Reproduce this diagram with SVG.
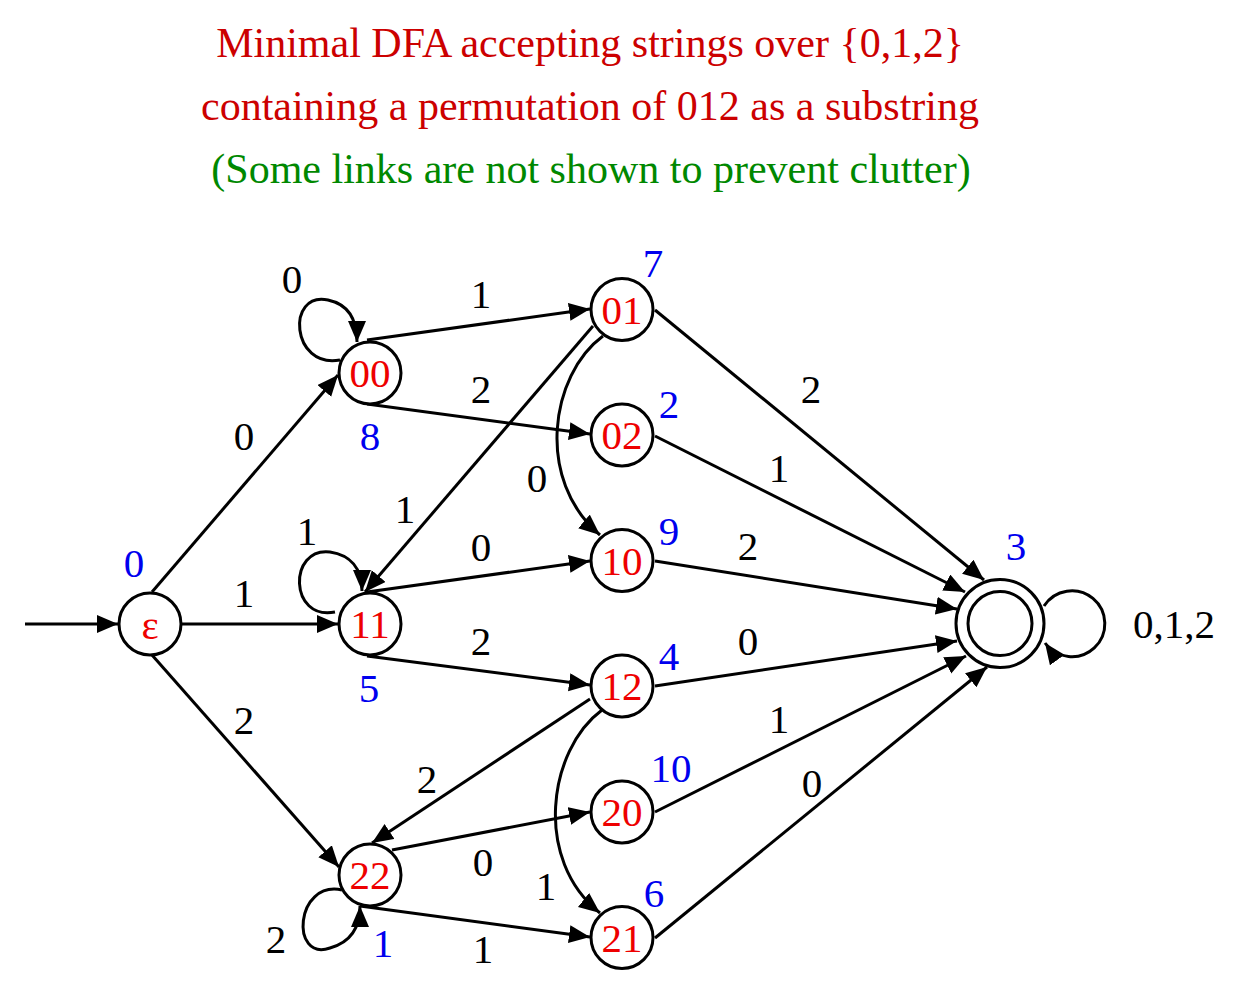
<svg xmlns="http://www.w3.org/2000/svg" width="1244" height="993" viewBox="0 0 1244 993">
<style>
.t{font-family:"Liberation Serif","Times New Roman",serif;font-size:41px;text-anchor:middle}
.title{font-family:"Liberation Serif","Times New Roman",serif;font-size:42px;text-anchor:middle}
.red{fill:#cc0000}
.green{fill:#008800}
.nl{fill:#ee0000}
.lb{fill:#000000}
.bl{fill:#0000ee}
.node{fill:#ffffff;stroke:#000000;stroke-width:3}
.edge{fill:none;stroke:#000000;stroke-width:3;marker-end:url(#arr)}
</style>
<defs>
<marker id="arr" markerUnits="userSpaceOnUse" markerWidth="22" markerHeight="20" viewBox="0 0 22 20" refX="21" refY="9" orient="auto">
<path d="M0,0 L21,9 L0,18 z" fill="#000000"/>
</marker>
</defs>
<rect width="1244" height="993" fill="#ffffff"/>
<g id="title">
<text class="title red" x="590" y="57">Minimal DFA accepting strings over {0,1,2}</text>
<text class="title red" x="590" y="120">containing a permutation of 012 as a substring</text>
<text class="title green" x="591" y="183">(Some links are not shown to prevent clutter)</text>
</g>
<g id="edges">
<path class="edge" d="M25,624 L118,624"/>
<path class="edge" d="M152,592 L338,375"/>
<path class="edge" d="M182,624 L338,624"/>
<path class="edge" d="M152,655 L339,867"/>
<path class="edge" d="M340,360 C291,369 286,291 328,300 C347,304 357,318 357,342"/>
<path class="edge" d="M335,612 C289,621 288,547 330,552 C350,555 362,568 362,591"/>
<path class="edge" d="M342,890 C295,880 290,962 330,948 C348,943 360,930 360,906"/>
<path class="edge" d="M1044,606 A33,33 0 1 1 1045,643"/>
<path class="edge" d="M367,340 L590,309"/>
<path class="edge" d="M367,404 L590,434"/>
<path class="edge" d="M593,326 L365,592"/>
<path class="edge" d="M603,336 C550,375 535,480 600,535"/>
<path class="edge" d="M367,592 L590,561"/>
<path class="edge" d="M367,656 L590,685"/>
<path class="edge" d="M590,699 L372,843"/>
<path class="edge" d="M602,710 C548,750 533,860 600,913"/>
<path class="edge" d="M392,850 L590,812"/>
<path class="edge" d="M360,906 L590,937"/>
<path class="edge" d="M655,310 L984,580"/>
<path class="edge" d="M655,436 L965,592"/>
<path class="edge" d="M655,561 L957,609"/>
<path class="edge" d="M655,686 L957,641"/>
<path class="edge" d="M655,812 L966,656"/>
<path class="edge" d="M655,938 L987,667"/>
</g>
<g id="edge-labels">
<text class="t lb" x="244" y="450">0</text>
<text class="t lb" x="244" y="607">1</text>
<text class="t lb" x="244" y="734">2</text>
<text class="t lb" x="292" y="293">0</text>
<text class="t lb" x="307" y="545">1</text>
<text class="t lb" x="276" y="953">2</text>
<text class="t lb" x="405" y="523">1</text>
<text class="t lb" x="481" y="308">1</text>
<text class="t lb" x="481" y="403">2</text>
<text class="t lb" x="537" y="492">0</text>
<text class="t lb" x="481" y="561">0</text>
<text class="t lb" x="481" y="655">2</text>
<text class="t lb" x="427" y="793">2</text>
<text class="t lb" x="483" y="876">0</text>
<text class="t lb" x="546" y="900">1</text>
<text class="t lb" x="483" y="963">1</text>
<text class="t lb" x="811" y="403">2</text>
<text class="t lb" x="779" y="482">1</text>
<text class="t lb" x="748" y="560">2</text>
<text class="t lb" x="748" y="655">0</text>
<text class="t lb" x="779" y="733">1</text>
<text class="t lb" x="812" y="797">0</text>
<text class="t lb" x="1174" y="638">0,1,2</text>
</g>
<g id="node-eps">
<circle class="node" cx="150" cy="624" r="31"/>
<text class="t nl" x="150" y="639">ε</text>
<text class="t bl" x="134" y="577">0</text>
</g>
<g id="node-00">
<circle class="node" cx="370" cy="373" r="31"/>
<text class="t nl" x="370" y="387">00</text>
<text class="t bl" x="370" y="450">8</text>
</g>
<g id="node-11">
<circle class="node" cx="370" cy="624" r="31"/>
<text class="t nl" x="370" y="638">11</text>
<text class="t bl" x="369" y="702">5</text>
</g>
<g id="node-22">
<circle class="node" cx="370" cy="875" r="31"/>
<text class="t nl" x="370" y="889">22</text>
<text class="t bl" x="383" y="957">1</text>
</g>
<g id="node-01">
<circle class="node" cx="622" cy="309.5" r="31"/>
<text class="t nl" x="622" y="323.5">01</text>
<text class="t bl" x="653" y="277">7</text>
</g>
<g id="node-02">
<circle class="node" cx="622" cy="435" r="31"/>
<text class="t nl" x="622" y="449">02</text>
<text class="t bl" x="669" y="418">2</text>
</g>
<g id="node-10">
<circle class="node" cx="622" cy="560.5" r="31"/>
<text class="t nl" x="622" y="574.5">10</text>
<text class="t bl" x="669" y="545">9</text>
</g>
<g id="node-12">
<circle class="node" cx="622" cy="686" r="31"/>
<text class="t nl" x="622" y="700">12</text>
<text class="t bl" x="669" y="670">4</text>
</g>
<g id="node-20">
<circle class="node" cx="622" cy="812" r="31"/>
<text class="t nl" x="622" y="826">20</text>
<text class="t bl" x="671" y="782">10</text>
</g>
<g id="node-21">
<circle class="node" cx="622" cy="937.5" r="31"/>
<text class="t nl" x="622" y="951.5">21</text>
<text class="t bl" x="654" y="907">6</text>
</g>
<g id="node-final">
<circle class="node" cx="1000" cy="623.5" r="44"/>
<circle class="node" cx="1000" cy="623.5" r="32"/>
<text class="t bl" x="1016" y="560">3</text>
</g>
</svg>
